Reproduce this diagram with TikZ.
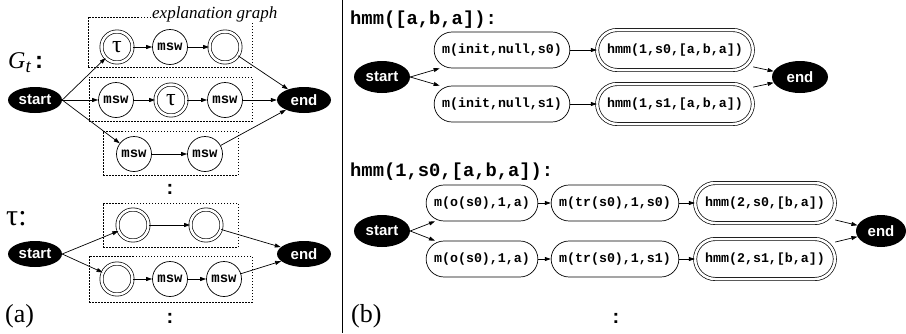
\documentclass[tikz,border=0pt]{standalone}
\usepackage{fontspec}
\setmainfont{Liberation Serif}
\setsansfont{Liberation Sans}
\setmonofont{Liberation Mono}
\usetikzlibrary{arrows.meta,shapes.geometric}
\begin{document}
\begin{tikzpicture}[x=1pt,y=-1pt,
  terminal/.style={ellipse, fill=black, text=white, font=\sffamily\bfseries\fontsize{15}{15}\selectfont, inner sep=0pt, minimum width=54pt, minimum height=26pt},
  rterm/.style={terminal, minimum width=56pt, minimum height=32pt},
  sc/.style={circle, draw, line width=0.7pt, minimum size=35pt, inner sep=0pt, font=\ttfamily\bfseries\fontsize{14}{14}\selectfont},
  dc/.style={sc, double, double distance=2.5pt, minimum size=31pt},
  taufont/.style={font=\rmfamily\fontsize{24}{24}\selectfont},
  gbox/.style={draw, dash pattern=on 1.5pt off 1.5pt, line width=0.6pt, inner sep=0pt},
  arr/.style={-{Triangle[length=6pt,width=4pt]}, line width=0.7pt},
  mb/.style={rectangle, draw, line width=0.7pt, rounded corners=18pt, minimum height=36pt, inner xsep=8pt, inner ysep=0pt, font=\ttfamily\bfseries\fontsize{13.3}{13.3}\selectfont},
  hb/.style={mb, double, double distance=2.5pt, rounded corners=20pt, minimum height=40pt, inner xsep=10pt},
  ttl/.style={anchor=west, inner sep=0pt, font=\ttfamily\bfseries\fontsize{18.8}{18.8}\selectfont},
  lab/.style={anchor=base west, inner sep=0pt, font=\rmfamily\fontsize{26}{26}\selectfont},
  vdots/.style={inner sep=0pt, font=\sffamily\bfseries\fontsize{20}{20}\selectfont},
]
\useasboundingbox (0,0) rectangle (906,333);

% ---------- panel (a) ----------
\node[gbox, minimum width=164pt, minimum height=50pt] (bx1) at (170,42) {};
\node[gbox, minimum width=163pt, minimum height=44pt] (bx2) at (170.5,99) {};
\node[gbox, minimum width=135pt, minimum height=44pt] (bx3) at (170.5,153) {};
\node[gbox, minimum width=135pt, minimum height=44pt] (bx4) at (170.5,225) {};
\node[gbox, minimum width=163pt, minimum height=46pt] (bx5) at (170.5,279) {};
\node[fill=white, inner sep=1pt, anchor=base west, font=\rmfamily\itshape\fontsize{17}{17}\selectfont] (expl) at (151,18.5) {explanation graph};

\node[inner sep=0pt, anchor=base west] (gt) at (8,68) {\fontsize{24}{24}\selectfont\textit{G}\raisebox{-4pt}{\fontsize{19}{19}\selectfont\textit{t}}\hspace{4pt}{\sffamily\bfseries :}};
\node[lab, font=\rmfamily\fontsize{30}{30}\selectfont] (taulab) at (6,225) {τ:};
\node[lab] (la) at (5,322) {(a)};

\node[terminal] (s1) at (35,100) {start};
\node[terminal] (e1) at (304,100) {end};
\node[dc, taufont] (a1) at (117,47) {τ};
\node[sc] (a2) at (170,47) {msw};
\node[dc] (a3) at (225,47) {};
\node[sc] (b1) at (116,100) {msw};
\node[dc, taufont] (b2) at (171,100) {τ};
\node[sc] (b3) at (225,100) {msw};
\node[sc] (c1) at (134,154) {msw};
\node[sc] (c2) at (205,154) {msw};
\node[vdots] (d1) at (170,189) {:};

\draw[arr] (s1.east) -- (a1);
\draw[arr] (a1) -- (a2);
\draw[arr] (a2) -- (a3);
\draw[arr] (a3) -- (e1);
\draw[arr] (s1.east) -- (b1);
\draw[arr] (b1) -- (b2);
\draw[arr] (b2) -- (b3);
\draw[arr] (b3) -- (e1);
\draw[arr] (s1.east) -- (c1);
\draw[arr] (c1) -- (c2);
\draw[arr] (c2) -- (e1);

\node[terminal] (s2) at (35,254) {start};
\node[terminal] (e2) at (304,254) {end};
\node[dc] (p1) at (133,225) {};
\node[dc] (p2) at (206,225) {};
\node[dc] (q1) at (117,279) {};
\node[sc] (q2) at (170,279) {msw};
\node[sc] (q3) at (224,279) {msw};
\node[vdots] (d2) at (170,318) {:};

\draw[arr] (s2.east) -- (p1);
\draw[arr] (p1) -- (p2);
\draw[arr] (p2) -- (e2);
\draw[arr] (s2.east) -- (q1);
\draw[arr] (q1) -- (q2);
\draw[arr] (q2) -- (q3);
\draw[arr] (q3) -- (e2);

% ---------- separator ----------
\draw[line width=0.7pt] (342,0) -- (342,333);

% ---------- panel (b) ----------
\node[ttl] (t1) at (350,20) {hmm([a,b,a]):};
\node[rterm] (s3) at (382,77) {start};
\node[mb] (m0) at (502,50) {m(init,null,s0)};
\node[mb] (m1) at (502,104) {m(init,null,s1)};
\node[hb] (h0) at (675,50) {hmm(1,s0,[a,b,a])};
\node[hb] (h1) at (675,104) {hmm(1,s1,[a,b,a])};
\node[rterm] (e3) at (800,77) {end};

\draw[arr] (s3.east) -- (m0);
\draw[arr] (s3.east) -- (m1);
\draw[arr] (m0) -- (h0);
\draw[arr] (m1) -- (h1);
\draw[arr] (h0) -- (e3);
\draw[arr] (h1) -- (e3);

\node[ttl] (t2) at (350,172) {hmm(1,s0,[a,b,a]):};
\node[rterm] (s4) at (382,231) {start};
\node[mb] (o0) at (482,203) {m(o(s0),1,a)};
\node[mb] (o1) at (482,259) {m(o(s0),1,a)};
\node[mb] (r0) at (615,203) {m(tr(s0),1,s0)};
\node[mb] (r1) at (615,259) {m(tr(s0),1,s1)};
\node[hb] (g0) at (765,203) {hmm(2,s0,[b,a])};
\node[hb] (g1) at (765,259) {hmm(2,s1,[b,a])};
\node[rterm, minimum width=50pt] (e4) at (881,231) {end};

\draw[arr] (s4.east) -- (o0);
\draw[arr] (s4.east) -- (o1);
\draw[arr] (o0) -- (r0);
\draw[arr] (o1) -- (r1);
\draw[arr] (r0) -- (g0);
\draw[arr] (r1) -- (g1);
\draw[arr] (g0) -- (e4);
\draw[arr] (g1) -- (e4);

\node[lab] (lb) at (351,322) {(b)};
\node[vdots] (d3) at (616,318) {:};
\end{tikzpicture}
\end{document}
